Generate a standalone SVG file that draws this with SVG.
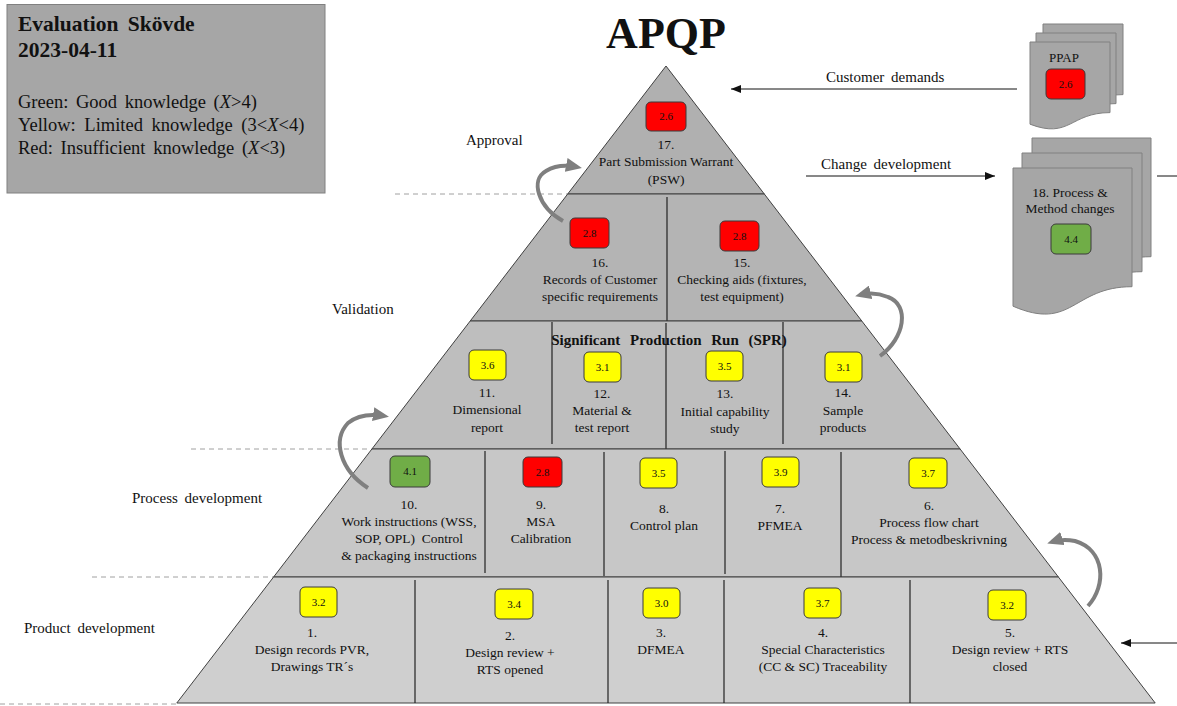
<svg xmlns="http://www.w3.org/2000/svg" width="1177" height="706" viewBox="0 0 1177 706">
  <defs>
    <style>
      text { font-family: "Liberation Serif", "Times New Roman", serif; fill: #111; }
      .cell { font-size: 13.5px; text-anchor: middle; }
      .side { font-size: 15px; word-spacing: 3px; }
      .score { font-size: 11px; text-anchor: middle; }
      .row { stroke: #404040; stroke-width: 1; }
      .div { stroke: #222; stroke-width: 1.2; }
      .dash { stroke: #a0a0a0; stroke-width: 1; stroke-dasharray: 5 4; fill: none; }
      .red { fill: #ff0000; stroke: #3a3a3a; stroke-width: 1; }
      .yellow { fill: #ffff00; stroke: #3a3a3a; stroke-width: 1; }
      .green { fill: #70ad47; stroke: #3a3a3a; stroke-width: 1; }
      .page { fill: #a6a6a6; stroke: #808080; stroke-width: 1; }
      .loop { fill: none; stroke: #7f7f7f; stroke-width: 4; marker-end: url(#grayHead); }
      .flow { fill: none; stroke: #111; stroke-width: 1; }
    </style>
    <marker id="grayHead" viewBox="0 0 16 14" markerWidth="16" markerHeight="14" refX="11" refY="7" orient="auto" markerUnits="userSpaceOnUse">
      <path d="M0,0 L16,7 L0,14 Z" fill="#7f7f7f"/>
    </marker>
    <marker id="blackHead" viewBox="0 0 10 8" markerWidth="10" markerHeight="8" refX="10" refY="4" orient="auto" markerUnits="userSpaceOnUse">
      <path d="M0,0 L10,4 L0,8 Z" fill="#111"/>
    </marker>
  </defs>

  <rect width="1177" height="706" fill="#ffffff"/>

  <!-- legend -->
  <g id="legend">
    <rect x="7" y="4.5" width="318" height="188.5" fill="#a6a6a6" stroke="#808080" stroke-width="1"/>
    <text x="18" y="31" font-size="21.5" font-weight="bold" word-spacing="4">Evaluation Skövde</text>
    <text x="18" y="57" font-size="21.5" font-weight="bold">2023-04-11</text>
    <text x="18" y="108" font-size="18.5" word-spacing="3">Green: Good knowledge (<tspan font-style="italic">X</tspan>&gt;4)</text>
    <text x="18" y="131" font-size="18.5" word-spacing="4">Yellow: Limited knowledge (3&lt;<tspan font-style="italic">X</tspan>&lt;4)</text>
    <text x="18" y="154" font-size="18.5" word-spacing="3">Red: Insufficient knowledge (<tspan font-style="italic">X</tspan>&lt;3)</text>
  </g>

  <text x="666" y="48" font-size="44" font-weight="bold" text-anchor="middle">APQP</text>

  <!-- phase labels and dashed phase boundaries -->
  <g id="phases">
    <text class="side" x="466" y="145">Approval</text>
    <text class="side" x="332" y="314">Validation</text>
    <text class="side" x="132" y="503">Process development</text>
    <text class="side" x="24" y="633">Product development</text>
    <line class="dash" x1="395" y1="194" x2="567" y2="194"/>
    <line class="dash" x1="191" y1="449" x2="371" y2="449"/>
    <line class="dash" x1="92" y1="577" x2="273" y2="577"/>
    <line class="dash" x1="0" y1="704" x2="176" y2="704"/>
  </g>

  <!-- pyramid levels -->
  <g id="level-approval">
    <polygon class="row" points="666,66 764.3,194 567.7,194" fill="#b0b0b0"/>
    <rect class="red" x="646" y="102" width="40" height="29" rx="5"/>
    <text class="score" x="666" y="120">2.6</text>
    <text class="cell" x="666" y="149">17.</text>
    <text class="cell" x="666" y="166">Part Submission Warrant</text>
    <text class="cell" x="666" y="184">(PSW)</text>
  </g>

  <g id="level-validation-top">
    <polygon class="row" points="567.7,194 764.3,194 861.8,321 470.2,321" fill="#b4b4b4"/>
    <line class="div" x1="667" y1="197" x2="667" y2="321"/>
    <g id="item-16">
      <rect class="red" x="570" y="218" width="39" height="30" rx="5"/>
      <text class="score" x="589.5" y="237">2.8</text>
      <text class="cell" x="600" y="267">16.</text>
      <text class="cell" x="600" y="284">Records of Customer</text>
      <text class="cell" x="600" y="301">specific requirements</text>
    </g>
    <g id="item-15">
      <rect class="red" x="720" y="221" width="39" height="30" rx="5"/>
      <text class="score" x="739.5" y="240">2.8</text>
      <text class="cell" x="742" y="267">15.</text>
      <text class="cell" x="742" y="284">Checking aids (fixtures,</text>
      <text class="cell" x="742" y="301">test equipment)</text>
    </g>
  </g>

  <g id="level-spr">
    <polygon class="row" points="470.2,321 861.8,321 960.1,449 371.9,449" fill="#bebebe"/>
    <line class="div" x1="552" y1="322" x2="552" y2="444"/>
    <line class="div" x1="666" y1="323" x2="666" y2="449"/>
    <line class="div" x1="783" y1="322" x2="783" y2="444"/>
    <text x="669" y="345" font-size="15" font-weight="bold" text-anchor="middle" word-spacing="6">Significant Production Run (SPR)</text>
    <g id="item-11">
      <rect class="yellow" x="469" y="350" width="37" height="30" rx="5"/>
      <text class="score" x="487.5" y="369">3.6</text>
      <text class="cell" x="487" y="397">11.</text>
      <text class="cell" x="487" y="414">Dimensional</text>
      <text class="cell" x="487" y="432">report</text>
    </g>
    <g id="item-12">
      <rect class="yellow" x="584" y="352" width="37" height="30" rx="5"/>
      <text class="score" x="602.5" y="371">3.1</text>
      <text class="cell" x="602" y="398">12.</text>
      <text class="cell" x="602" y="415">Material &amp;</text>
      <text class="cell" x="602" y="432">test report</text>
    </g>
    <g id="item-13">
      <rect class="yellow" x="706" y="351" width="37" height="30" rx="5"/>
      <text class="score" x="724.5" y="370">3.5</text>
      <text class="cell" x="725" y="398">13.</text>
      <text class="cell" x="725" y="416">Initial capability</text>
      <text class="cell" x="725" y="433">study</text>
    </g>
    <g id="item-14">
      <rect class="yellow" x="825" y="352" width="37" height="30" rx="5"/>
      <text class="score" x="843.5" y="371">3.1</text>
      <text class="cell" x="843" y="397">14.</text>
      <text class="cell" x="843" y="415">Sample</text>
      <text class="cell" x="843" y="432">products</text>
    </g>
  </g>

  <g id="level-process">
    <polygon class="row" points="371.9,449 960.1,449 1058.4,577 273.6,577" fill="#c7c7c7"/>
    <line class="div" x1="485" y1="451" x2="485" y2="573"/>
    <line class="div" x1="604" y1="452" x2="604" y2="576"/>
    <line class="div" x1="725" y1="451" x2="725" y2="574"/>
    <line class="div" x1="841" y1="452" x2="841" y2="577"/>
    <g id="item-10">
      <rect class="green" x="390" y="456" width="40" height="31" rx="5"/>
      <text class="score" x="410" y="475">4.1</text>
      <text class="cell" x="409" y="509">10.</text>
      <text class="cell" x="409" y="526">Work instructions (WSS,</text>
      <text class="cell" x="409" y="543" xml:space="preserve">SOP, OPL)  Control</text>
      <text class="cell" x="409" y="560">&amp; packaging instructions</text>
    </g>
    <g id="item-9">
      <rect class="red" x="523" y="457" width="39" height="30" rx="5"/>
      <text class="score" x="542.5" y="476">2.8</text>
      <text class="cell" x="541" y="509">9.</text>
      <text class="cell" x="541" y="526">MSA</text>
      <text class="cell" x="541" y="543">Calibration</text>
    </g>
    <g id="item-8">
      <rect class="yellow" x="640" y="458" width="37" height="30" rx="5"/>
      <text class="score" x="658.5" y="477">3.5</text>
      <text class="cell" x="664" y="513">8.</text>
      <text class="cell" x="664" y="530">Control plan</text>
    </g>
    <g id="item-7">
      <rect class="yellow" x="762" y="457" width="37" height="30" rx="5"/>
      <text class="score" x="780.5" y="476">3.9</text>
      <text class="cell" x="780" y="513">7.</text>
      <text class="cell" x="780" y="530">PFMEA</text>
    </g>
    <g id="item-6">
      <rect class="yellow" x="909" y="458" width="38" height="30" rx="5"/>
      <text class="score" x="928" y="477">3.7</text>
      <text class="cell" x="929" y="510">6.</text>
      <text class="cell" x="929" y="527">Process flow chart</text>
      <text class="cell" x="929" y="544">Process &amp; metodbeskrivning</text>
    </g>
  </g>

  <g id="level-product">
    <polygon class="row" points="273.6,577 1058.4,577 1155.2,703 176.8,703" fill="#cfcfcf"/>
    <line class="div" x1="415" y1="580" x2="415" y2="703"/>
    <line class="div" x1="608" y1="580" x2="608" y2="703"/>
    <line class="div" x1="724" y1="580" x2="724" y2="703"/>
    <line class="div" x1="910" y1="580" x2="910" y2="703"/>
    <g id="item-1">
      <rect class="yellow" x="300" y="587" width="37" height="30" rx="5"/>
      <text class="score" x="318.5" y="606">3.2</text>
      <text class="cell" x="312" y="637">1.</text>
      <text class="cell" x="312" y="654">Design records PVR,</text>
      <text class="cell" x="312" y="671">Drawings TR´s</text>
    </g>
    <g id="item-2">
      <rect class="yellow" x="495" y="589" width="38" height="30" rx="5"/>
      <text class="score" x="514" y="608">3.4</text>
      <text class="cell" x="510" y="640">2.</text>
      <text class="cell" x="510" y="657">Design review +</text>
      <text class="cell" x="510" y="674">RTS opened</text>
    </g>
    <g id="item-3">
      <rect class="yellow" x="643" y="588" width="37" height="30" rx="5"/>
      <text class="score" x="661.5" y="607">3.0</text>
      <text class="cell" x="661" y="637">3.</text>
      <text class="cell" x="661" y="654">DFMEA</text>
    </g>
    <g id="item-4">
      <rect class="yellow" x="804" y="588" width="37" height="30" rx="5"/>
      <text class="score" x="822.5" y="607">3.7</text>
      <text class="cell" x="823" y="637">4.</text>
      <text class="cell" x="823" y="654">Special Characteristics</text>
      <text class="cell" x="823" y="671">(CC &amp; SC) Traceability</text>
    </g>
    <g id="item-5">
      <rect class="yellow" x="988" y="590" width="38" height="30" rx="5"/>
      <text class="score" x="1007" y="609">3.2</text>
      <text class="cell" x="1010" y="637">5.</text>
      <text class="cell" x="1010" y="654">Design review + RTS</text>
      <text class="cell" x="1010" y="671">closed</text>
    </g>
  </g>

  <!-- document stacks -->
  <g id="ppap">
    <path class="page" d="M1043,24 H1123 V94.6 C1083,94.6 1083,121.4 1043,106.2 Z"/>
    <path class="page" d="M1036,33 H1116 V103.6 C1076,103.6 1076,130.4 1036,115.2 Z"/>
    <path class="page" d="M1030,42 H1110 V112.6 C1070,112.6 1070,139.4 1030,124.2 Z"/>
    <text x="1064" y="62" font-size="13" text-anchor="middle">PPAP</text>
    <rect class="red" x="1046" y="69" width="39" height="30" rx="5"/>
    <text class="score" x="1065.5" y="88">2.6</text>
  </g>

  <g id="method-changes">
    <path class="page" d="M1032,138 H1151 V256.7 C1091.5,256.7 1091.5,301.8 1032,276.2 Z"/>
    <path class="page" d="M1022,153 H1142 V271.7 C1082,271.7 1082,316.8 1022,291.2 Z"/>
    <path class="page" d="M1013,168 H1132 V286.7 C1072.5,286.7 1072.5,331.8 1013,306.2 Z"/>
    <text x="1070" y="197" font-size="13.5" text-anchor="middle">18. Process &amp;</text>
    <text x="1070" y="213" font-size="13.5" text-anchor="middle">Method changes</text>
    <rect class="green" x="1051" y="224" width="40" height="30" rx="5"/>
    <text class="score" x="1071" y="243">4.4</text>
  </g>

  <!-- connectors -->
  <g id="connectors">
    <text class="side" x="826" y="82">Customer demands</text>
    <line class="flow" x1="1017" y1="89" x2="731" y2="89" marker-end="url(#blackHead)"/>
    <text class="side" x="821" y="169">Change development</text>
    <line class="flow" x1="806" y1="176" x2="995" y2="176" marker-end="url(#blackHead)"/>
    <line class="flow" x1="1157" y1="176" x2="1177" y2="176"/>
    <line class="flow" x1="1177" y1="643" x2="1121" y2="643" marker-end="url(#blackHead)"/>

    <path class="loop" d="M563,221 C538,207 530,180 546,171 C556,165 567,165 577,167"/>
    <path class="loop" d="M880,356 C905,338 910,305 888,297 C878,293 868,293 860,295"/>
    <path class="loop" d="M368,488 C340,470 332,440 348,423 C358,415 372,414 384,416"/>
    <path class="loop" d="M1088,606 C1107,585 1105,550 1075,541 C1065,539 1058,540 1052,542"/>
  </g>
</svg>
